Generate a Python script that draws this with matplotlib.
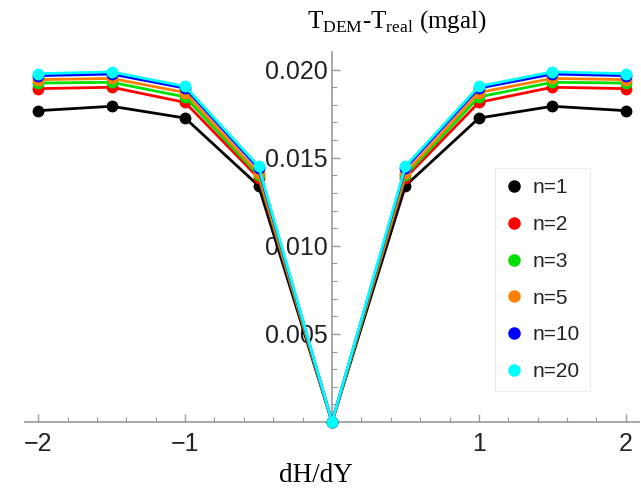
import matplotlib
matplotlib.use("Agg")
import matplotlib.pyplot as plt
from matplotlib.ticker import FixedLocator, FuncFormatter
from matplotlib.lines import Line2D

plt.rcParams['mathtext.fontset'] = 'custom'
plt.rcParams['mathtext.rm'] = 'Liberation Serif'

x = [-2, -1.5, -1, -0.5, 0, 0.5, 1, 1.5, 2]
half = {
    'n=1':  [0.01767, 0.01792, 0.01725, 0.01341],
    'n=2':  [0.01892, 0.01900, 0.01814, 0.01385],
    'n=3':  [0.01924, 0.01928, 0.01845, 0.01400],
    'n=5':  [0.01943, 0.01950, 0.01870, 0.01412],
    'n=10': [0.01966, 0.01975, 0.01895, 0.01440],
    'n=20': [0.01977, 0.01987, 0.01905, 0.01451],
}
labels = list(half.keys())
colors = ['#000000', '#ff0000', '#00e000', '#ff8000', '#0000ff', '#00ffff']
series = {k: v + [0.0] + v[::-1] for k, v in half.items()}

fig = plt.figure(figsize=(6.41, 4.93), dpi=100)
ax = fig.add_axes([25/641, 1-422/493, (639-25)/641, (422-52)/493])

for lab, c in zip(labels, colors):
    ax.plot(x, series[lab], '-', color=c, lw=2, marker='o', ms=7.5, clip_on=False, zorder=3)

ax.set_xlim(-2.09, 2.09)
ax.set_ylim(0, 0.021)

for s in ['top', 'right']:
    ax.spines[s].set_visible(False)
ax.spines['left'].set_position(('data', 0))
ax.spines['bottom'].set_position(('data', 0))
axc = '#999999'
for s in ['left', 'bottom']:
    ax.spines[s].set_color(axc)
    ax.spines[s].set_linewidth(1.2)

ax.xaxis.set_major_locator(FixedLocator([-2, -1, 1, 2]))
ax.xaxis.set_minor_locator(FixedLocator([i*0.2 for i in range(-10, 11) if i % 5 != 0]))
ax.xaxis.set_major_formatter(FuncFormatter(lambda v, p: ('\u2212%d' % abs(v)) if v < 0 else '%d' % v))
ax.yaxis.set_major_locator(FixedLocator([0.005, 0.010, 0.015, 0.020]))
ax.yaxis.set_minor_locator(FixedLocator([i*0.001 for i in range(1, 21) if i % 5 != 0]))
ax.yaxis.set_major_formatter(FuncFormatter(lambda v, p: '%.3f' % v))

ax.tick_params(which='both', direction='in', color=axc, labelcolor='#222222')
ax.tick_params(which='major', length=6, width=1, labelsize=18)
ax.tick_params(which='minor', length=3.5, width=0.8)
for t in ax.get_xticklabels() + ax.get_yticklabels():
    t.set_fontfamily(['Liberation Sans', 'DejaVu Sans'])
ax.tick_params(axis='x', pad=7)
ax.tick_params(axis='y', pad=3)

handles = [Line2D([], [], ls='none', marker='o', color=c, ms=8) for c in colors]
leg = ax.legend(handles, labels, loc='upper left', bbox_to_anchor=(495/641, 1-168/493),
                bbox_transform=fig.transFigure, frameon=True, fancybox=False,
                prop={'family': 'Liberation Sans', 'size': 15}, labelspacing=0.85,
                handletextpad=0.48, handlelength=0.8, borderpad=0.5, borderaxespad=0)
leg.get_frame().set_edgecolor('#e6e6e6')
leg.get_frame().set_linewidth(0.8)
for t in leg.get_texts():
    t.set_color('#222222')

fig.text(397/641, 1-22/493, r'T$_{\mathrm{DEM}}$-T$_{\mathrm{real}}$ (mgal)',
         ha='center', va='center', fontsize=18, family='Liberation Serif')
fig.text(316/641, 1-476/493, 'dH/dY', ha='center', va='center', fontsize=19.5,
         family='Liberation Serif')

fig.savefig('out.png', dpi=100)
